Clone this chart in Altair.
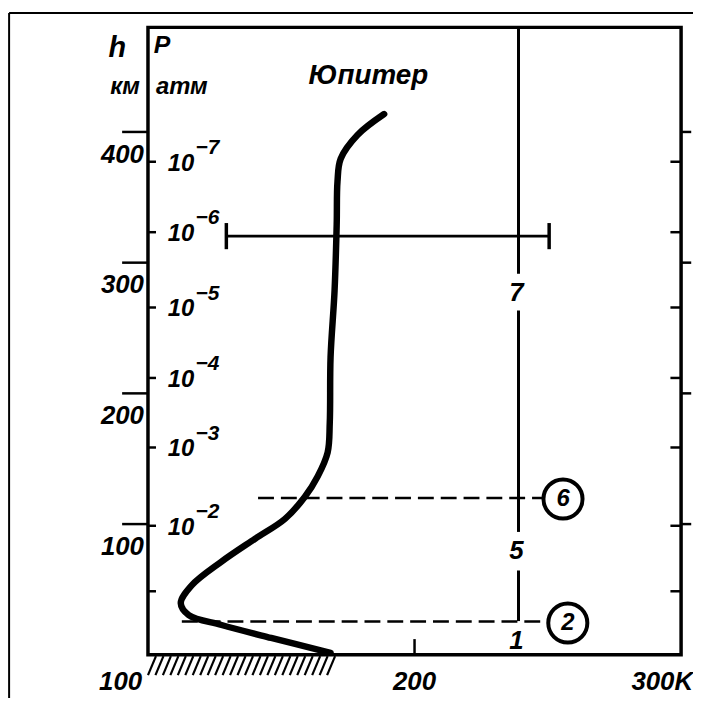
import altair as alt
import pandas as pd

FONT = "Liberation Sans"

# --- data -----------------------------------------------------------------
# temperature profile of Jupiter: T (K) against altitude h (km)
profile_T = [168.5, 146.2, 127.6, 115.3, 112.3, 116.4, 127.6, 140.2, 151.4, 158.8,
             163.7, 167.4, 168.2, 168.5, 170.0, 170.8, 171.1, 172.3, 178.6, 188.6]
profile_h = [1.5, 12.9, 22.8, 30.4, 39.5, 53.1, 71.3, 88.8, 104.0, 120.7,
             136.6, 154.8, 177.6, 227.7, 278.6, 329.4, 362.0, 379.5, 397.7, 413.7]

h_ticks = [100, 200, 300, 400]
h_labels = ["100", "200", "300", "400"]

p_exps = ["−7", "−6", "−5", "−4", "−3", "−2"]
p_h = [377.2, 323.3, 265.7, 211.8, 158.6, 98.7]
p_tick_h = [377.2, 323.3, 265.7, 211.8, 158.6, 98.7, 48.6]

x_labels = ["100", "200", "300K"]
x_label_T = [97.8, 200.0, 304.5]

# solid bar with end caps
bar_T = [129.4, 250.5]
bar_h = 320.3
# dashed levels (2) and (6)
dash_h = [120.0, 25.5]
dash_T1 = [141.3, 112.7]
dash_T2 = [248.0, 249.0]
circ_T = [255.7, 257.5]
circ_h = [119.2, 24.3]
circ_text = ["6", "2"]
# vertical line at ~239 K with labelled gaps
vert_T = 239.0
vert_h1 = [480.0, 263.4, 25.8]
vert_h2 = [291.5, 94.0, 64.5]
vert_lab = ["7", "5", "1"]
vert_lab_h = [277.0, 79.0, 10.6]

# ground hatching (decorative)
hatch_T = [100 + 2.8 * i for i in range(25)]

# --- scales ---------------------------------------------------------------
XS = alt.Scale(domain=[100, 300], nice=False, zero=False)
YS = alt.Scale(domain=[0, 480], nice=False, zero=False)


def X(f):
    return alt.X(f, type="quantitative", scale=XS, axis=None)


def Y(f):
    return alt.Y(f, type="quantitative", scale=YS, axis=None)


def txt(**kw):
    base = dict(font=FONT, fontWeight="bold", fontStyle="italic", color="black")
    base.update(kw)
    return base


layers = []

# profile curve
prof = pd.DataFrame({"T": profile_T, "h": profile_h, "i": range(len(profile_T))})
layers.append(alt.Chart(prof).mark_line(color="black", strokeWidth=6.5, interpolate="catmull-rom",
                                        strokeCap="round", strokeJoin="round")
              .encode(x=X("T"), y=Y("h"), order="i:Q"))

# solid bar with caps
layers.append(alt.Chart(pd.DataFrame({"T": [bar_T[0]], "T2": [bar_T[1]], "h": [bar_h]}))
              .mark_rule(color="black", strokeWidth=3)
              .encode(x=X("T"), x2="T2", y=Y("h")))
layers.append(alt.Chart(pd.DataFrame({"T": bar_T, "h": [bar_h - 10] * 2, "h2": [bar_h + 10] * 2}))
              .mark_rule(color="black", strokeWidth=3.5)
              .encode(x=X("T"), y=Y("h"), y2="h2"))

# dashed levels
layers.append(alt.Chart(pd.DataFrame({"T": dash_T1, "T2": dash_T2, "h": dash_h}))
              .mark_rule(color="black", strokeWidth=2.5, strokeDash=[16, 7])
              .encode(x=X("T"), x2="T2", y=Y("h")))

# vertical line segments
layers.append(alt.Chart(pd.DataFrame({"T": [vert_T] * 3, "h": vert_h1, "h2": vert_h2}))
              .mark_rule(color="black", strokeWidth=3)
              .encode(x=X("T"), y=Y("h"), y2="h2"))
layers.append(alt.Chart(pd.DataFrame({"T": [vert_T] * 3, "h": vert_lab_h, "t": vert_lab}))
              .mark_text(**txt(fontSize=26, align="center", baseline="middle", dx=-2))
              .encode(x=X("T"), y=Y("h"), text="t:N"))

# circled labels
circ = pd.DataFrame({"T": circ_T, "h": circ_h, "t": circ_text})
layers.append(alt.Chart(circ).mark_point(shape="circle", size=1550, filled=False, fill="white",
                                         fillOpacity=1, stroke="black", strokeWidth=4, opacity=1)
              .encode(x=X("T"), y=Y("h")))
layers.append(alt.Chart(circ).mark_text(**txt(fontSize=24, align="center", baseline="middle"))
              .encode(x=X("T"), y=Y("h"), text="t:N"))

# left axis: h overline ticks and labels
ht = pd.DataFrame({"T": [90.3] * 4, "T2": [100.0] * 4, "h": h_ticks, "t": h_labels})
layers.append(alt.Chart(ht).mark_rule(color="black", strokeWidth=2.5)
              .encode(x=X("T"), x2="T2", y=Y("h")))
layers.append(alt.Chart(ht).mark_text(**txt(fontSize=26, align="right", baseline="alphabetic", dx=22, dy=31))
              .encode(x=X("T"), y=Y("h"), text="t:N"))

# right axis: outward h ticks
layers.append(alt.Chart(pd.DataFrame({"T": [300.0] * 4, "T2": [303.8] * 4, "h": h_ticks}))
              .mark_rule(color="black", strokeWidth=2.5)
              .encode(x=X("T"), x2="T2", y=Y("h")))

# pressure ticks (inside, left and right)
pt = pd.DataFrame({"T": [100.0] * 7, "T2": [103.0] * 7, "R": [300.0] * 7, "R2": [296.0] * 7, "h": p_tick_h})
layers.append(alt.Chart(pt).mark_rule(color="black", strokeWidth=2.5)
              .encode(x=X("T"), x2="T2", y=Y("h")))
layers.append(alt.Chart(pt).mark_rule(color="black", strokeWidth=2.5)
              .encode(x=X("R"), x2="R2", y=Y("h")))

# pressure labels 10^-n
pl = pd.DataFrame({"T": [100.0] * 6, "h": p_h, "b": ["10"] * 6, "e": p_exps})
layers.append(alt.Chart(pl).mark_text(**txt(fontSize=24, align="left", baseline="middle", dx=20, dy=2))
              .encode(x=X("T"), y=Y("h"), text="b:N"))
layers.append(alt.Chart(pl).mark_text(**txt(fontSize=21, align="left", baseline="middle", dx=48, dy=-14))
              .encode(x=X("T"), y=Y("h"), text="e:N"))

# bottom tick at 200 K
layers.append(alt.Chart(pd.DataFrame({"T": [200.0], "h": [0.0], "h2": [12.0]}))
              .mark_rule(color="black", strokeWidth=2.5)
              .encode(x=X("T"), y=Y("h"), y2="h2"))

# x labels
xl = pd.DataFrame({"T": x_label_T, "h": [0.0] * 3, "t": x_labels})
layers.append(alt.Chart(xl[xl.t != "200"]).mark_text(**txt(fontSize=26, align="right", baseline="alphabetic", dy=35))
              .encode(x=X("T"), y=Y("h"), text="t:N"))
layers.append(alt.Chart(xl[xl.t == "200"]).mark_text(**txt(fontSize=26, align="center", baseline="alphabetic", dy=35))
              .encode(x=X("T"), y=Y("h"), text="t:N"))

# ground hatching
hat = pd.DataFrame({"T": hatch_T, "T2": [t + 3.0 for t in hatch_T], "h": [-15.5] * len(hatch_T), "h2": [-1.0] * len(hatch_T)})
layers.append(alt.Chart(hat).mark_rule(color="black", strokeWidth=2.2)
              .encode(x=X("T"), x2="T2", y=Y("h"), y2="h2"))

# titles and unit labels
ann_big = pd.DataFrame({"T": [182.7, 88.5, 102.2], "h": [436.4, 457.0, 460.7], "t": ["Юпитер", "h", "P"]})
layers.append(alt.Chart(ann_big.iloc[[0]]).mark_text(**txt(fontSize=28, align="center", baseline="alphabetic"))
              .encode(x=X("T"), y=Y("h"), text="t:N"))
layers.append(alt.Chart(ann_big.iloc[[1]]).mark_text(**txt(fontSize=29, align="center", baseline="alphabetic"))
              .encode(x=X("T"), y=Y("h"), text="t:N"))
layers.append(alt.Chart(ann_big.iloc[[2]]).mark_text(**txt(fontSize=25, align="left", baseline="alphabetic"))
              .encode(x=X("T"), y=Y("h"), text="t:N"))
ann_small = pd.DataFrame({"T": [91.4, 103.0], "h": [428.8, 428.8], "t": ["км", "атм"]})
layers.append(alt.Chart(ann_small.iloc[[0]]).mark_text(**txt(fontSize=24, align="center", baseline="alphabetic"))
              .encode(x=X("T"), y=Y("h"), text="t:N"))
layers.append(alt.Chart(ann_small.iloc[[1]]).mark_text(**txt(fontSize=24, align="left", baseline="alphabetic"))
              .encode(x=X("T"), y=Y("h"), text="t:N"))

# picture border (left and top)
layers.append(alt.Chart(pd.DataFrame({"T": [47.9], "h": [-40.0], "h2": [491.0]}))
              .mark_rule(color="black", strokeWidth=2)
              .encode(x=X("T"), y=Y("h"), y2="h2"))
layers.append(alt.Chart(pd.DataFrame({"T": [47.9], "T2": [310.0], "h": [491.0]}))
              .mark_rule(color="black", strokeWidth=2)
              .encode(x=X("T"), x2="T2", y=Y("h")))

chart = (alt.layer(*layers)
         .properties(width=537, height=632,
                     autosize=alt.AutoSizeParams(type="none"),
                     padding={"left": 141, "top": 17, "right": 12, "bottom": 41},
                     background="white")
         .configure_view(stroke="black", strokeWidth=3.5))

chart.save("out.html", embed_options={"renderer": "svg", "actions": False})
